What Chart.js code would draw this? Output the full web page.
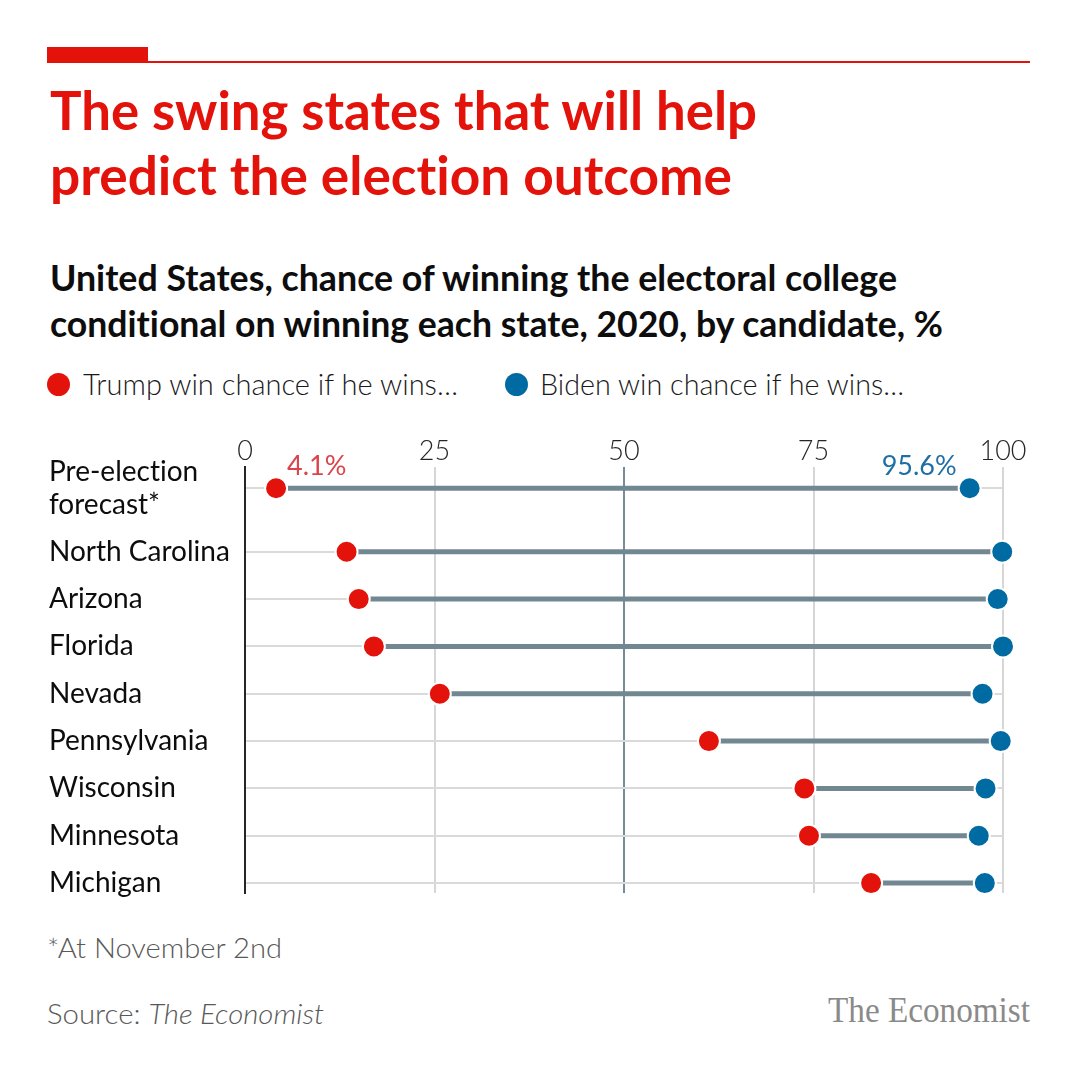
<!DOCTYPE html>
<html>
<head>
<meta charset="utf-8">
<title>Swing states</title>
<script src="https://cdn.jsdelivr.net/npm/chart.js@4.4.1/dist/chart.umd.min.js"></script>
<style>
  html, body { margin: 0; padding: 0; background: #fff; }
  body { width: 1080px; height: 1080px; position: relative; overflow: hidden; font-family: Lato, sans-serif; font-variant-ligatures: none; }
  .t { position: absolute; white-space: nowrap; line-height: 1; transform-origin: 0 0; }
  .title { color: #e3120b; font-weight: 700; font-size: 54px; left: 50px; }
  .sub { color: #0d0d0d; font-weight: 700; font-size: 37px; left: 50px; }
  .leg { color: #1a1a1a; font-weight: 300; font-size: 29px; top: 369px; }
  .dot { position: absolute; width: 23px; height: 23px; border-radius: 50%; top: 373px; }
  .note { color: #595959; font-weight: 300; font-size: 28px; left: 47px; }
  .logo { color: #8a8a8a; font-family: "Liberation Serif", serif; font-size: 35px; top: 993px; left: 828px; }
  #bar { position: absolute; left: 47px; top: 47px; width: 101px; height: 16px; background: #e3120b; }
  #rule { position: absolute; left: 148px; top: 61px; width: 882px; height: 2px; background: #e3120b; }
  #wrap { position: absolute; left: 0; top: 420px; width: 1080px; height: 500px; }
</style>
</head>
<body>
<div id="bar"></div>
<div id="rule"></div>
<div class="t title" style="top:83px" data-w="707">The swing states that will help</div>
<div class="t title" style="top:148px" data-w="682">predict the election outcome</div>
<div class="t sub" style="top:258px" data-w="847">United States, chance of winning the electoral college</div>
<div class="t sub" style="top:304px" data-w="893">conditional on winning each state, 2020, by candidate, %</div>

<div class="dot" style="left:47px;background:#e3120b"></div>
<div class="t leg" style="left:83px" data-w="375">Trump win chance if he wins…</div>
<div class="dot" style="left:505px;background:#006ba2"></div>
<div class="t leg" style="left:540px" data-w="364">Biden win chance if he wins…</div>

<div id="wrap"><canvas id="myChart" width="1080" height="500"></canvas></div>

<div class="t note" style="top:933px" data-w="235">*At November 2nd</div>
<div class="t note" style="top:999px" data-w="277">Source: <i>The Economist</i></div>
<div class="t logo" data-w="202">The Economist</div>

<script>
// Datos del grafico
const rowLabels = [["Pre-election", "forecast*"], "North Carolina", "Arizona", "Florida",
                   "Nevada", "Pennsylvania", "Wisconsin", "Minnesota", "Michigan"];
const trumpWin  = [4.1, 13.4, 15.0, 17.0, 25.7, 61.2, 73.8, 74.4, 82.6];
const bidenWin  = [95.6, 99.9, 99.3, 100, 97.3, 99.7, 97.7, 96.8, 97.6];
const xTicks    = [0, 25, 50, 75, 100];

const RED   = "#e3120b";
const BLUE  = "#006ba2";
const SLATE = "#718792";

// fila 0 (pronostico) va un poco separada del resto
const rowPos = rowLabels.map((l, i) => (i === 0 ? -0.34 : i));

// ajusta el ancho de los textos html
function fitTexts() {
  document.querySelectorAll("[data-w]").forEach((el) => {
    const w = el.getBoundingClientRect().width;
    el.style.transform = "scaleX(" + (Number(el.dataset.w) / w) + ")";
  });
}

const connectors = rowLabels.map((l, i) => ({
  type: "line",
  data: [{ x: trumpWin[i], y: rowPos[i] }, { x: bidenWin[i], y: rowPos[i] }],
  borderColor: SLATE,
  borderWidth: 5,
  pointRadius: 0,
  clip: false,
  order: 2
}));

const dots = (values, color) => ({
  type: "scatter",
  data: values.map((v, i) => ({ x: v, y: rowPos[i] })),
  backgroundColor: color,
  borderColor: "#fff",
  borderWidth: 2,
  pointRadius: 11,
  pointHoverRadius: 11,
  clip: false,
  order: 0
});

// etiquetas 4.1% / 95.6%
const forecastLabels = {
  id: "forecastLabels",
  afterDatasetsDraw(chart) {
    const { ctx, scales: { x, y } } = chart;
    const yy = y.getPixelForValue(rowPos[0]) - 22;
    ctx.save();
    ctx.font = "27px Lato";
    ctx.textBaseline = "middle";
    ctx.fillStyle = "#db444b";
    ctx.textAlign = "left";
    ctx.fillText(trumpWin[0] + "%", x.getPixelForValue(trumpWin[0]) + 11, yy);
    ctx.fillStyle = "#1f6fa5";
    ctx.textAlign = "right";
    ctx.fillText(bidenWin[0] + "%", x.getPixelForValue(bidenWin[0]) - 13, yy);
    ctx.restore();
  }
};

function renderGrafica() {
  Chart.defaults.font.family = "Lato";
  const config = {
    type: "scatter",
    data: { datasets: [dots(trumpWin, RED), dots(bidenWin, BLUE), ...connectors] },
    options: {
      responsive: false,
      animation: false,
      layout: { padding: { left: 49, right: 77, top: 0, bottom: 27 } },
      plugins: { legend: { display: false }, tooltip: { enabled: false } },
      scales: {
        x: {
          type: "linear",
          position: "top",
          min: 0,
          max: 100,
          afterBuildTicks: (s) => { s.ticks = xTicks.map((v) => ({ value: v })); },
          afterFit: (s) => { s.height = 47; },
          ticks: { font: { size: 27, weight: 300 }, color: "#262626", padding: 0 },
          grid: {
            drawTicks: false,
            lineWidth: 2,
            color: (c) => (c.tick.value === 0 ? "rgba(0,0,0,0)" : c.tick.value === 50 ? "#758d99" : "#d6d6d6")
          },
          border: { display: false }
        },
        y: {
          type: "linear",
          reverse: true,
          min: -0.79,
          max: 8.21,
          afterBuildTicks: (s) => { s.ticks = rowPos.map((v) => ({ value: v })); },
          afterFit: (s) => { s.width = 196; s.paddingTop = 0; s.paddingBottom = 0; },
          ticks: {
            callback: (v, i) => rowLabels[i],
            autoSkip: false,
            crossAlign: "far",
            padding: 0,
            color: "#0d0d0d",
            font: { size: 28, weight: 400, lineHeight: 1.17 }
          },
          grid: { drawTicks: false, lineWidth: 2, color: "#dadada" },
          border: { display: true, color: "#262626", width: 2 }
        }
      }
    },
    plugins: [forecastLabels]
  };
  new Chart(document.getElementById("myChart"), config);
}

document.fonts.ready.then(() => {
  fitTexts();
  renderGrafica();
});
</script>
</body>
</html>
